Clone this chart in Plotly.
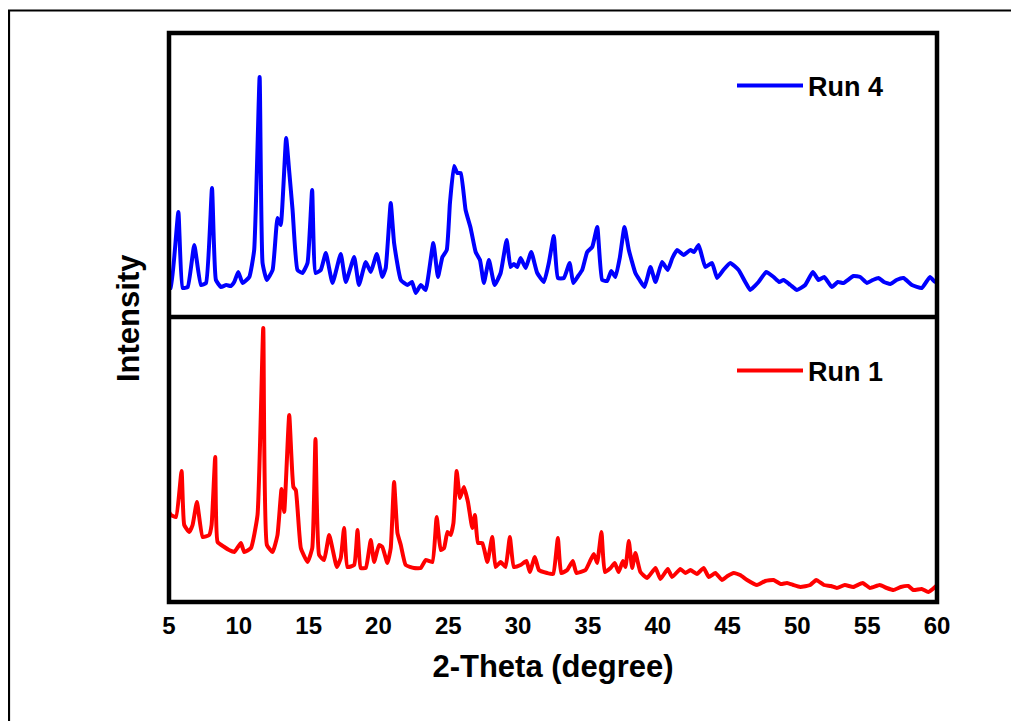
import plotly.graph_objects as go
from plotly.subplots import make_subplots

# ---- data ----
run4_theta = [5.0, 5.14, 5.67, 5.98, 6.34, 6.81, 7.29, 7.65, 8.08, 8.36, 8.72, 9.1, 9.43, 9.67, 9.96, 10.27,
              10.75, 11.1, 11.49, 11.7, 12.0, 12.42, 12.77, 13.0, 13.39, 13.6, 13.85, 14.2, 14.56, 14.92,
              15.25, 15.5, 15.87, 16.23, 16.71, 17.3, 17.66, 18.26, 18.6, 19.09, 19.45, 19.88, 20.28,
              20.52, 20.88, 21.12, 21.6, 22.07, 22.4, 22.67, 23.03, 23.38, 23.93, 24.26, 24.58, 24.89, 25.12,
              25.41, 25.65, 25.89, 26.24, 26.6, 26.96, 27.27, 27.55, 27.91, 28.32, 28.75, 29.18, 29.46,
              29.7, 29.94, 30.18, 30.54, 30.94, 31.37, 31.85, 32.2, 32.56, 32.85, 33.28, 33.69, 33.95, 34.3, 34.59,
              34.95, 35.31, 35.67, 36.02, 36.38, 36.67, 36.97, 37.28, 37.62, 37.93, 38.4, 38.7, 39.05, 39.48,
              39.84, 40.31, 40.72, 41.05, 41.39, 41.86, 42.34, 42.6, 42.93, 43.41, 43.89, 44.25, 44.7, 45.2, 45.79, 46.27,
              46.63, 47.22, 47.77, 48.3, 48.7, 49.01, 49.5, 49.97, 50.56, 51.11, 51.52, 51.92, 52.47, 52.9, 53.3, 54.02,
              54.5, 54.98, 55.4, 55.81, 56.2, 56.65, 57.1, 57.6, 58.2, 58.91, 59.5, 59.86, 60.0]
run4_int = [33, 32, 108, 32, 33, 75, 35, 37, 132, 40, 33, 35, 34, 38, 48, 37,
            43, 70, 243, 57, 40, 50, 102, 95, 182, 150, 110, 50, 47, 57,
            130, 47, 50, 67, 37, 66, 38, 63, 35, 58, 48, 66, 43,
            52, 117, 77, 40, 35, 38, 27, 35, 30, 77, 43, 63, 70, 117,
            154, 147, 147, 110, 92, 68, 60, 37, 60, 35, 47, 80, 53,
            56, 53, 62, 52, 68, 47, 38, 57, 84, 42, 42, 57, 37, 44, 50,
            68, 73, 93, 40, 39, 49, 43, 62, 93, 70, 47, 40, 33, 53,
            38, 58, 50, 62, 70, 65, 70, 68, 75, 53, 57, 42, 50, 57, 50, 38,
            30, 38, 48, 43, 38, 40, 35, 30, 35, 48, 40, 43, 33, 38, 37, 44,
            43, 37, 40, 42, 38, 36, 40, 42, 35, 32, 43, 38, 40]

run1_theta = [5.0, 5.14, 5.5, 5.9, 6.09, 6.45, 6.69, 7.0, 7.41, 7.88, 8.05, 8.31, 8.48, 8.96, 9.3, 9.67,
              10.15, 10.39, 10.87, 11.34, 11.75, 12.01, 12.42, 12.77, 13.06, 13.25, 13.61, 13.91, 14.08,
              14.44, 14.92, 15.26, 15.49, 15.75, 16.11, 16.47, 17.02, 17.3, 17.54, 17.78, 18.26, 18.5,
              18.73, 19.09, 19.45, 19.69, 20.04, 20.28, 20.64, 20.88, 21.12, 21.36, 21.6, 21.95, 22.55,
              23.03, 23.38, 23.86, 24.17, 24.46, 24.7, 24.94, 25.17, 25.37, 25.6, 25.84, 26.12, 26.41,
              26.72, 26.91, 27.13, 27.44, 27.8, 28.15, 28.39, 28.75, 29.1, 29.41, 29.7, 30.18, 30.6,
              30.84, 31.2, 31.49, 32.08, 32.51, 32.85, 33.09, 33.52, 33.92, 34.18, 34.83, 35.19, 35.42,
              35.66, 35.97, 36.21, 36.62, 36.92, 37.2, 37.5, 37.69, 37.93, 38.17, 38.4, 38.76, 39.24,
              39.84, 40.19, 40.72, 41.03, 41.62, 41.98, 42.34, 42.8, 43.29, 43.65, 44.13, 44.6, 45.0, 45.44, 45.9,
              46.4, 47.11, 47.7, 48.3, 48.8, 49.26, 49.7, 50.21, 50.92, 51.35, 51.9, 52.4, 52.83, 53.4, 54.0, 54.68, 55.2, 55.9,
              56.4, 56.88, 57.4, 57.95, 58.3, 58.9, 59.38, 59.86, 60.0]
run1_int = [88, 85, 83, 129, 75, 68, 75, 98, 63, 65, 75, 143, 58, 53, 50, 48,
            57, 48, 52, 85, 272, 55, 48, 65, 111, 88, 185, 113, 110,
            52, 38, 52, 161, 45, 40, 65, 33, 42, 72, 33, 35, 70,
            32, 32, 60, 38, 55, 53, 37, 52, 118, 67, 55, 35, 32,
            32, 40, 38, 83, 50, 52, 68, 65, 77, 129, 102, 113, 98,
            72, 85, 57, 57, 38, 63, 33, 38, 33, 63, 33, 35, 39,
            28, 43, 30, 27, 26, 62, 27, 30, 39, 27, 30, 40, 46,
            37, 68, 28, 32, 37, 28, 39, 33, 59, 32, 47, 28, 22,
            32, 21, 31, 23, 31, 27, 30, 26, 32, 23, 27, 20, 24, 27, 25,
            20, 15, 19, 20, 16, 17, 15, 13, 15, 20, 15, 14, 12, 15, 13, 17, 12, 15,
            12, 10, 13, 14, 10, 11, 8, 13, 15]

x_ticks = [5, 10, 15, 20, 25, 30, 35, 40, 45, 50, 55, 60]
series_names = ["Run 4", "Run 1"]

FONT = "Arial, Liberation Sans, sans-serif"
OFF = 8  # page body margin
W, H = 1019 - OFF, 721 - OFF
L, R, T, B = 169 - OFF, 937 - OFF, 33 - OFF, 602 - OFF
MID = 317 - OFF
split = (B - MID) / (B - T)

fig = make_subplots(rows=2, cols=1, shared_xaxes=True, vertical_spacing=0,
                    row_heights=[1 - split, split])

fig.add_trace(go.Scatter(x=run4_theta, y=run4_int, mode="lines", name=series_names[0],
                         line=dict(color="#0000FF", width=4, shape="spline", smoothing=0.4),
                         legend="legend", showlegend=True), row=1, col=1)
fig.add_trace(go.Scatter(x=run1_theta, y=run1_int, mode="lines", name=series_names[1],
                         line=dict(color="#FF0000", width=4, shape="spline", smoothing=0.4),
                         legend="legend2", showlegend=True), row=2, col=1)

xcommon = dict(range=[5, 60], showgrid=False, zeroline=False, showline=False, ticks="")
fig.update_xaxes(**xcommon)
fig.update_xaxes(showticklabels=False, row=1, col=1)
fig.update_xaxes(tickmode="array", tickvals=x_ticks, ticktext=[str(v) for v in x_ticks],
                 tickfont=dict(family=FONT, size=24, color="black", weight="bold"),
                 ticklabelstandoff=7,
                 title=dict(text="<b>2-Theta (degree)</b>", font=dict(family=FONT, size=31, color="black"),
                            standoff=17),
                 row=2, col=1)
fig.update_yaxes(showgrid=False, zeroline=False, showline=False, showticklabels=False, ticks="")
fig.update_yaxes(range=[3, 287], row=1, col=1)
fig.update_yaxes(range=[-2, 283], row=2, col=1)


def px_x(p):
    return (p - OFF - L) / (R - L)


def px_y(p):
    return (B - (p - OFF)) / (B - T)


shapes = [
    # outer frame
    dict(type="rect", xref="paper", yref="paper", x0=px_x(9), x1=px_x(1040), y0=px_y(745), y1=px_y(10.5),
         line=dict(color="black", width=2.2), layer="below"),
    # panel frame
    dict(type="rect", xref="paper", yref="paper", x0=0, x1=1, y0=0, y1=1,
         line=dict(color="black", width=4.5)),
    dict(type="line", xref="paper", yref="paper", x0=0, x1=1, y0=split, y1=split,
         line=dict(color="black", width=4.5)),
]

legend_font = dict(family=FONT, size=27, color="black", weight="bold")
leg_common = dict(xanchor="left", yanchor="middle", font=legend_font,
                  bgcolor="rgba(0,0,0,0)", itemwidth=66)
fig.update_layout(
    width=W, height=H,
    margin=dict(l=L, r=W - R, t=T, b=H - B),
    paper_bgcolor="white", plot_bgcolor="white",
    font=dict(family=FONT, color="black"),
    showlegend=True,
    shapes=shapes,
    legend=dict(x=px_x(732), y=px_y(86), **leg_common),
    legend2=dict(x=px_x(732), y=px_y(371), **leg_common),
    annotations=[dict(text="<b>Intensity</b>", xref="paper", yref="paper",
                      x=px_x(128), y=px_y(318), textangle=-90, showarrow=False,
                      font=dict(family=FONT, size=31, color="black"),
                      xanchor="center", yanchor="middle")],
)

fig.write_html("out.html")
